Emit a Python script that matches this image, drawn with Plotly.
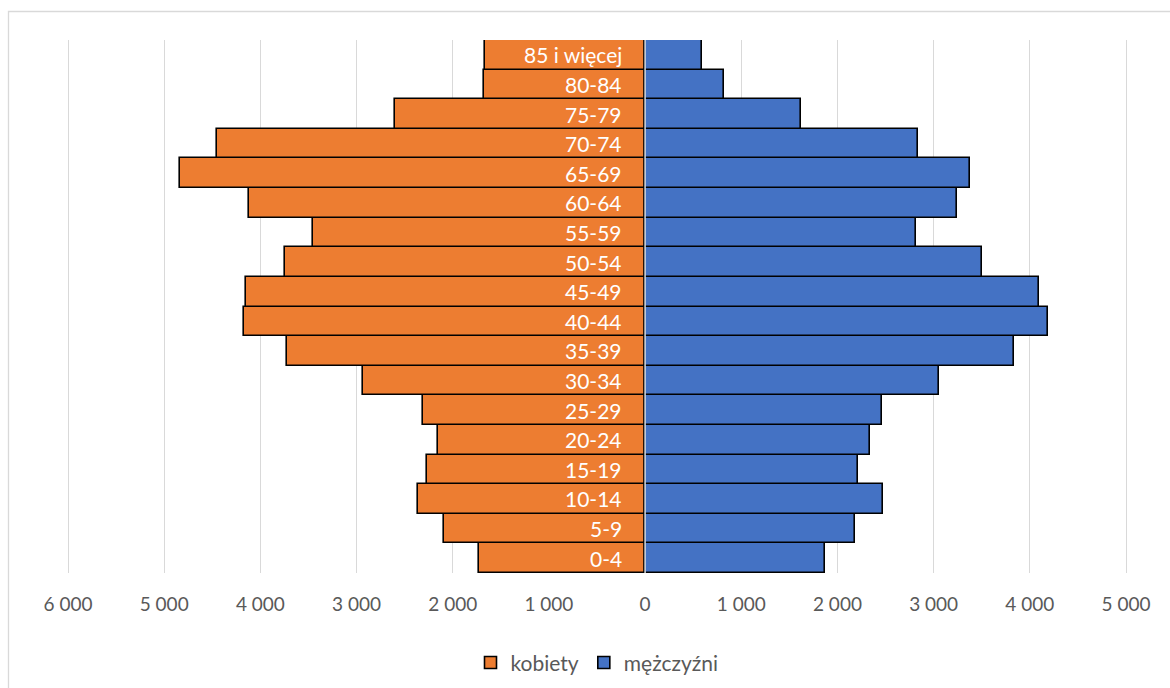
import plotly.graph_objects as go

age_groups = ["0-4", "5-9", "10-14", "15-19", "20-24", "25-29", "30-34", "35-39",
              "40-44", "45-49", "50-54", "55-59", "60-64", "65-69", "70-74",
              "75-79", "80-84", "85 i więcej"]
kobiety = [1724, 2094, 2365, 2264, 2150, 2305, 2928, 3721,
           4171, 4147, 3749, 3451, 4115, 4832, 4455, 2596, 1672, 1661]
mezczyzni = [1869, 2181, 2471, 2212, 2343, 2464, 3056, 3832,
             4192, 4095, 3500, 2814, 3240, 3375, 2835, 1620, 824, 592]
tick_vals = [-6000, -5000, -4000, -3000, -2000, -1000, 0, 1000, 2000, 3000, 4000, 5000]
tick_text = ["6 000", "5 000", "4 000", "3 000", "2 000", "1 000", "0",
             "1 000", "2 000", "3 000", "4 000", "5 000"]

FONT = "Lato"

fig = go.Figure()
fig.add_trace(go.Bar(
    y=age_groups, x=[-v for v in kobiety], orientation="h", name="kobiety",
    marker=dict(color="#ED7D31", line=dict(color="black", width=1.6)),
    hoverinfo="skip"))
fig.add_trace(go.Bar(
    y=age_groups, x=mezczyzni, orientation="h", name="mężczyźni",
    marker=dict(color="#4472C4", line=dict(color="black", width=1.6)),
    hoverinfo="skip"))

annotations = [dict(x=0, y=g, xref="x", yref="y", text=g, showarrow=False,
                    xanchor="right", xshift=-21,
                    font=dict(family=FONT, size=21, color="white"))
               for g in age_groups]

L, R, T, B = 68, 1126, 40, 573
PAD = 6
pad_val = PAD * 11000 / (R - L)

fig.update_layout(
    width=1170, height=688,
    margin=dict(l=L - PAD, r=1170 - R - PAD, t=T, b=688 - B, autoexpand=False),
    paper_bgcolor="white", plot_bgcolor="white",
    barmode="relative", bargap=0,
    font=dict(family=FONT, color="#595959"),
    xaxis=dict(range=[-6000 - pad_val, 5000 + pad_val],
               tickvals=tick_vals, ticktext=tick_text,
               showgrid=True, gridcolor="#D9D9D9", gridwidth=1.3,
               zeroline=False, showline=False, ticks="",
               ticklabelstandoff=18, automargin=False,
               tickfont=dict(family=FONT, size=19, color="#595959")),
    yaxis=dict(showticklabels=False, showgrid=False, zeroline=False,
               showline=False, ticks="", categoryorder="array",
               categoryarray=age_groups, automargin=False),
    legend=dict(orientation="h", x=0.5, xanchor="center", y=-0.13, yanchor="top",
                font=dict(family=FONT, size=21, color="#595959"),
                itemwidth=30, traceorder="normal"),
    annotations=annotations,
    shapes=[
        dict(type="line", xref="x", yref="paper", x0=0, x1=0, y0=0, y1=1,
             line=dict(color="#D9D9D9", width=1.5), layer="above"),
        dict(type="rect", xref="paper", yref="paper",
             x0=(8.5 - (L - PAD)) / (R - L + 2 * PAD),
             x1=(1200 - (L - PAD)) / (R - L + 2 * PAD),
             y0=(B - 720) / (B - T), y1=(B - 11.5) / (B - T),
             line=dict(color="#D9D9D9", width=1.3), layer="below"),
    ],
)

fig.write_html("out.html", config={"displayModeBar": False},
               post_script="document.body.style.margin='0';document.body.style.padding='0';")
